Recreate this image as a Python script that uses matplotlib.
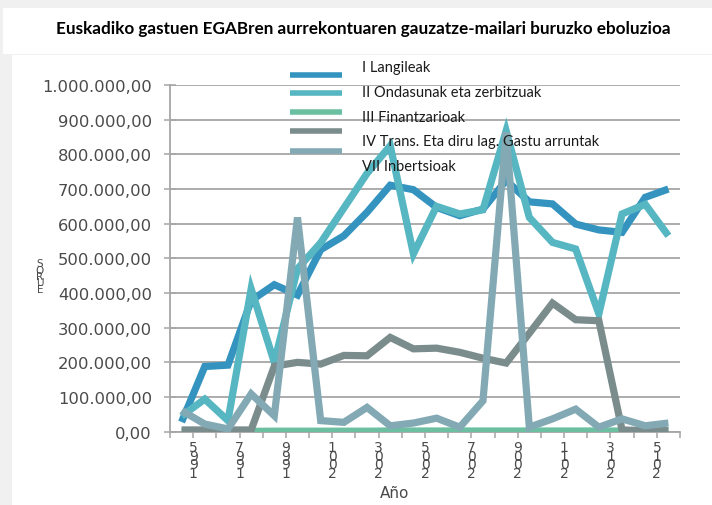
import matplotlib

matplotlib.use("Agg")
import matplotlib.pyplot as plt
import numpy as np
from matplotlib.lines import Line2D
from matplotlib.patches import Rectangle
from matplotlib.ticker import FixedLocator, FuncFormatter

# Data (euros, one value per year 1995-2016)
YEARS = list(range(1995, 2017))
LANGILEAK = [28000, 188000, 192000, 378000, 424000, 394000, 525000, 565000,
             633000, 711000, 698000, 647000, 623000, 642000, 725000, 663000,
             657000, 599000, 582000, 575000, 676000, 700000]
ONDASUNAK = [45000, 94000, 32000, 412000, 200000, 470000, 545000, 645000,
             745000, 825000, 513000, 650000, 628000, 640000, 868000, 618000,
             546000, 527000, 340000, 628000, 656000, 565000]
FINANTZARIOAK = [1000, 1000, 1000, 1000, 1500, 1500, 1500, 1500, 1500, 2000,
                 2000, 2000, 2000, 2000, 2000, 2000, 2000, 2000, 2000, 2000,
                 2000, 2000]
TRANSFERENTZIAK = [5000, 5000, 5000, 5000, 189000, 200000, 195000, 220000,
                   219000, 272000, 239000, 241000, 229000, 212000, 198000,
                   284000, 371000, 323000, 320000, 5000, 3000, 3000]
INBERTSIOAK = [61000, 22000, 8000, 109000, 46000, 618000, 32000, 27000,
               70000, 17000, 25000, 39000, 13000, 89000, 864000, 13000,
               37000, 65000, 13000, 37000, 17000, 25000]

LABELS = ["I Langileak", "II Ondasunak eta zerbitzuak", "III Finantzarioak",
          "IV Trans. Eta diru lag. Gastu arruntak", "VII Inbertsioak"]
COLORS = ["#3494bf", "#56b6c1", "#6cbfa0", "#7b8c8c", "#83aab4"]

W, H = 712, 506
TEXT = "#4a4a4a"
GRID = "#a6a6a6"


def fx(px):
    return px / W


def fy(py):
    return 1 - py / H


def euro_fmt(v, _pos):
    s = f"{v:,.2f}"
    return s.replace(",", "X").replace(".", ",").replace("X", ".")


fig = plt.figure(figsize=(W / 100, H / 100), dpi=100, facecolor="#f0f0f0")
# white panels (title strip + chart area), kept behind everything
fig.patches.append(Rectangle((fx(3), fy(55)), 1, fy(9) - fy(55),
                             transform=fig.transFigure, facecolor="white",
                             edgecolor="none", zorder=-10))
fig.patches.append(Rectangle((fx(12), 0), 1, fy(56),
                             transform=fig.transFigure, facecolor="white",
                             edgecolor="none", zorder=-10))

ax = fig.add_axes([fx(170), fy(432.7), fx(680) - fx(170), fy(86) - fy(432.7)])
ax.set_facecolor("none")
ax.set_zorder(2)

x = np.arange(len(YEARS))
series = [LANGILEAK, ONDASUNAK, FINANTZARIOAK, TRANSFERENTZIAK, INBERTSIOAK]
for vals, col in zip(series, COLORS):
    ax.plot(x, vals, color=col, linewidth=5.2, solid_joinstyle="miter",
            solid_capstyle="butt", zorder=3)

ax.set_xlim(-0.5, len(YEARS) - 0.5)
ax.set_ylim(0, 1000000)
ax.set_yticks(np.arange(0, 1000001, 100000))
ax.yaxis.set_major_formatter(FuncFormatter(euro_fmt))
ax.grid(axis="y", color=GRID, linewidth=1.3, zorder=1)
ax.set_axisbelow(True)

# x ticks on every category boundary, year label every second boundary
bounds = np.arange(len(YEARS) + 1) - 0.5
tick_labels = []
for k in range(len(bounds)):
    if k % 2 == 1:
        tick_labels.append("\n".join(reversed(str(YEARS[k - 1]))))
    else:
        tick_labels.append("")
ax.xaxis.set_major_locator(FixedLocator(bounds))
ax.set_xticklabels(tick_labels, fontsize=10, color=TEXT, linespacing=0.5,
                   va="top")

for s in ("top", "right"):
    ax.spines[s].set_visible(False)
for s in ("left", "bottom"):
    ax.spines[s].set_color(GRID)
    ax.spines[s].set_linewidth(1.3)
ax.tick_params(axis="y", direction="inout", length=8, width=1.1, color=GRID,
               labelsize=11.8, labelcolor=TEXT, pad=9)
ax.tick_params(axis="x", direction="out", length=4, width=1.1, color=GRID,
               pad=2)

fig.text(fx(395), fy(494), "Año", fontsize=11, color=TEXT, ha="center",
         va="center")
fig.text(fx(40), fy(277), "S\nO\nR\nU\nE", fontsize=7.5, color=TEXT,
         ha="center", va="center", linespacing=0.55)

# legend, placed like the original (handles and texts drift apart)
handle_y = [75.7, 94.3, 113.3, 132.3, 151.7]
text_y = [68.3, 92.7, 118.3, 142.3, 166.7]
for lab, col, hy, ty in zip(LABELS, COLORS, handle_y, text_y):
    fig.add_artist(Line2D([fx(290), fx(342)], [fy(hy), fy(hy)], color=col,
                          linewidth=4.0, solid_capstyle="butt", zorder=5))
    fig.text(fx(362), fy(ty), lab, fontsize=10.5, family="Lato", color="#1a1a1a",
             ha="left", va="center", zorder=5)

fig.text(fx(363), fy(29), "Euskadiko gastuen EGABren aurrekontuaren "
         "gauzatze-mailari buruzko eboluzioa", fontsize=12.3, family="Lato",
         fontweight="bold", color="black", ha="center", va="center")

fig.savefig("out.png", dpi=100, facecolor=fig.get_facecolor())
